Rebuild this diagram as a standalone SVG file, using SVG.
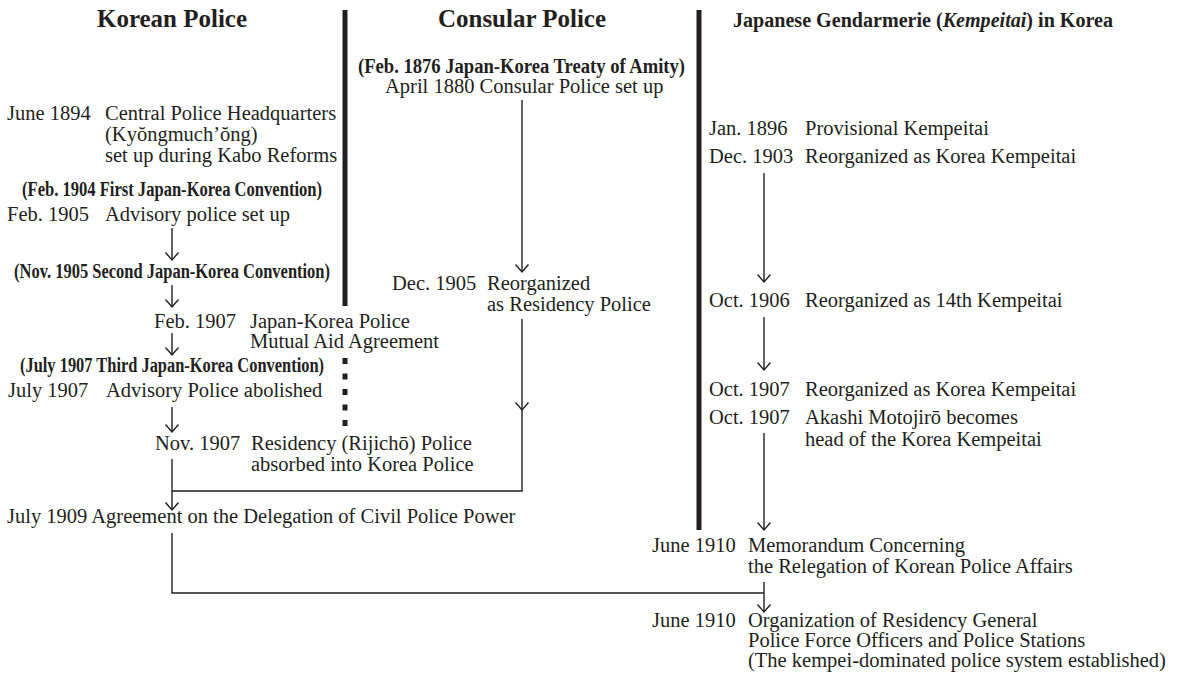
<svg xmlns="http://www.w3.org/2000/svg" width="1178" height="677" viewBox="0 0 1178 677">
<defs>
<marker id="ah" viewBox="-9 -8 10 16" markerUnits="userSpaceOnUse" markerWidth="10" markerHeight="16" refX="0" refY="0" orient="auto" overflow="visible">
<path d="M-7.5,-6.5 L0,0 L-7.5,6.5" fill="none" stroke="#231f20" stroke-width="1.4"/>
</marker>
</defs>
<style>
text{font-family:"Liberation Serif","Times New Roman",serif;fill:#231f20}
.r{font-size:20.5px}
.b{font-size:20.5px;font-weight:bold}
.h{font-size:24.5px;font-weight:bold}
.h2{font-size:20px;font-weight:bold}
.ln{fill:none;stroke:#231f20;stroke-width:1.4}
.dv{fill:none;stroke:#231f20;stroke-width:5}
</style>
<rect width="1178" height="677" fill="#fff"/>

<g id="dividers">
<line class="dv" x1="345" y1="10" x2="345" y2="306"/>
<line class="dv" x1="345" y1="358" x2="345" y2="428" stroke-dasharray="6,9.5"/>
<line class="dv" x1="699" y1="10" x2="699" y2="530"/>
</g>

<g id="headers">
<text class="h" x="97" y="27" textLength="150" lengthAdjust="spacingAndGlyphs">Korean Police</text>
<text class="h" x="438" y="27" textLength="168" lengthAdjust="spacingAndGlyphs">Consular Police</text>
<text class="h2" x="733" y="27" textLength="380" lengthAdjust="spacingAndGlyphs">Japanese Gendarmerie (<tspan font-style="italic">Kempeitai</tspan>) in Korea</text>
</g>

<g id="connectors">
<path class="ln" d="M172,228 V260" marker-end="url(#ah)"/>
<path class="ln" d="M172,285 V307" marker-end="url(#ah)"/>
<path class="ln" d="M172,333 V355" marker-end="url(#ah)"/>
<path class="ln" d="M172,407 V432" marker-end="url(#ah)"/>
<path class="ln" d="M172,459 V510" marker-end="url(#ah)"/>
<path class="ln" d="M522,100 V272" marker-end="url(#ah)"/>
<path class="ln" d="M522,319 V410" marker-end="url(#ah)"/>
<path class="ln" d="M522,410 V491 H172"/>
<path class="ln" d="M764,173 V282" marker-end="url(#ah)"/>
<path class="ln" d="M764,317 V370" marker-end="url(#ah)"/>
<path class="ln" d="M764,433 V530" marker-end="url(#ah)"/>
<path class="ln" d="M172,533 V593 H764"/>
<path class="ln" d="M764,582 V612" marker-end="url(#ah)"/>
</g>

<g id="n-june1894">
<text class="r" x="7" y="120">June 1894</text>
<text class="r" x="105" y="120">Central Police Headquarters</text>
<text class="r" x="105" y="141">(Kyŏngmuch’ŏng)</text>
<text class="r" x="105" y="162">set up during Kabo Reforms</text>
</g>
<g id="n-feb1904">
<text class="b" x="22" y="196" textLength="300" lengthAdjust="spacingAndGlyphs">(Feb. 1904 First Japan-Korea Convention)</text>
</g>
<g id="n-feb1905">
<text class="r" x="7" y="221">Feb. 1905</text>
<text class="r" x="105" y="221">Advisory police set up</text>
</g>
<g id="n-nov1905">
<text class="b" x="14" y="278" textLength="316" lengthAdjust="spacingAndGlyphs">(Nov. 1905 Second Japan-Korea Convention)</text>
</g>
<g id="n-feb1907">
<text class="r" x="154" y="328">Feb. 1907</text>
<text class="r" x="250" y="328">Japan-Korea Police</text>
<text class="r" x="250" y="348">Mutual Aid Agreement</text>
</g>
<g id="n-july1907conv">
<text class="b" x="20" y="372" textLength="304" lengthAdjust="spacingAndGlyphs">(July 1907 Third Japan-Korea Convention)</text>
</g>
<g id="n-july1907">
<text class="r" x="8" y="397">July 1907</text>
<text class="r" x="106" y="397">Advisory Police abolished</text>
</g>
<g id="n-nov1907">
<text class="r" x="155" y="450">Nov. 1907</text>
<text class="r" x="251" y="450">Residency (Rijichō) Police</text>
<text class="r" x="251" y="471">absorbed into Korea Police</text>
</g>
<g id="n-july1909">
<text class="r" x="7" y="523">July 1909 Agreement on the Delegation of Civil Police Power</text>
</g>

<g id="n-feb1876">
<text class="b" x="358" y="73" textLength="327" lengthAdjust="spacingAndGlyphs">(Feb. 1876 Japan-Korea Treaty of Amity)</text>
</g>
<g id="n-april1880">
<text class="r" x="385" y="93">April 1880 Consular Police set up</text>
</g>
<g id="n-dec1905">
<text class="r" x="392" y="290">Dec. 1905</text>
<text class="r" x="487" y="290">Reorganized</text>
<text class="r" x="487" y="311">as Residency Police</text>
</g>

<g id="n-jan1896">
<text class="r" x="709" y="135">Jan. 1896</text>
<text class="r" x="805" y="135">Provisional Kempeitai</text>
</g>
<g id="n-dec1903">
<text class="r" x="709" y="163">Dec. 1903</text>
<text class="r" x="805" y="163">Reorganized as Korea Kempeitai</text>
</g>
<g id="n-oct1906">
<text class="r" x="709" y="307">Oct. 1906</text>
<text class="r" x="805" y="307">Reorganized as 14th Kempeitai</text>
</g>
<g id="n-oct1907a">
<text class="r" x="709" y="396">Oct. 1907</text>
<text class="r" x="805" y="396">Reorganized as Korea Kempeitai</text>
</g>
<g id="n-oct1907b">
<text class="r" x="709" y="424">Oct. 1907</text>
<text class="r" x="805" y="424">Akashi Motojirō becomes</text>
<text class="r" x="805" y="446">head of the Korea Kempeitai</text>
</g>
<g id="n-june1910a">
<text class="r" x="652" y="552">June 1910</text>
<text class="r" x="748" y="552">Memorandum Concerning</text>
<text class="r" x="748" y="573">the Relegation of Korean Police Affairs</text>
</g>
<g id="n-june1910b">
<text class="r" x="652" y="627">June 1910</text>
<text class="r" x="748" y="627">Organization of Residency General</text>
<text class="r" x="748" y="647">Police Force Officers and Police Stations</text>
<text class="r" x="748" y="667">(The kempei-dominated police system established)</text>
</g>
</svg>
